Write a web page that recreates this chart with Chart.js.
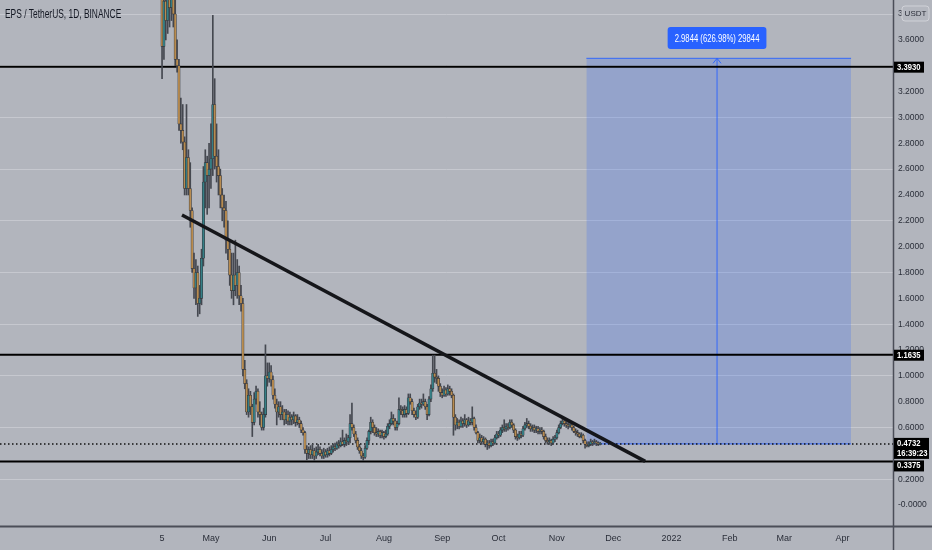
<!DOCTYPE html>
<html>
<head>
<meta charset="utf-8">
<script src="https://cdn.jsdelivr.net/npm/chart.js@4.4.0/dist/chart.umd.min.js"></script>
<style>
html, body { margin: 0; padding: 0; background: #b2b5bd; }
#wrap { width: 932px; height: 550px; position: relative; }
</style>
</head>
<body>
<div id="wrap"><canvas id="chartEps"></canvas></div>
<script>
// daily candles, day 0 = 5 Apr 2021
var opens = [
  3.95, 3.55, 3.90, 3.75, 4.00, 3.85, 4.05, 3.80, 3.45, 3.40,
  2.95, 2.90, 2.81, 2.45, 2.69, 2.45, 2.28, 1.83, 1.68, 1.80,
  1.56, 1.60, 1.91, 2.50, 2.65, 2.55, 2.60, 2.68, 3.10, 2.70,
  2.62, 2.55, 2.40, 2.30, 2.28, 2.05, 1.98, 1.78, 1.66, 1.78,
  1.70, 1.80, 1.62, 1.56, 1.05, 0.94, 0.72, 0.85, 0.76, 0.64,
  0.82, 0.88, 0.72, 0.70, 0.60, 0.70, 1.00, 0.98, 1.03, 0.97,
  0.85, 0.78, 0.72, 0.76, 0.70, 0.72, 0.66, 0.70, 0.65, 0.68,
  0.66, 0.69, 0.64, 0.66, 0.63, 0.58, 0.56, 0.43, 0.40, 0.43,
  0.39, 0.42, 0.38, 0.41, 0.43, 0.40, 0.38, 0.41, 0.39, 0.42,
  0.40, 0.43, 0.45, 0.44, 0.47, 0.46, 0.49, 0.47, 0.50, 0.49,
  0.52, 0.63, 0.60, 0.55, 0.50, 0.45, 0.42, 0.38, 0.37, 0.44,
  0.50, 0.57, 0.64, 0.60, 0.56, 0.55, 0.57, 0.54, 0.56, 0.53,
  0.55, 0.61, 0.63, 0.67, 0.65, 0.60, 0.63, 0.74, 0.73, 0.70,
  0.74, 0.71, 0.83, 0.80, 0.73, 0.70, 0.68, 0.76, 0.79, 0.78,
  0.80, 0.76, 0.70, 0.82, 0.90, 1.02, 0.99, 0.98, 0.92, 0.87,
  0.85, 0.89, 0.86, 0.90, 0.88, 0.85, 0.68, 0.62, 0.64, 0.61,
  0.65, 0.63, 0.66, 0.62, 0.65, 0.64, 0.67, 0.60, 0.56, 0.50,
  0.52, 0.49, 0.51, 0.47, 0.48, 0.46, 0.49, 0.48, 0.52, 0.55,
  0.54, 0.58, 0.60, 0.59, 0.61, 0.60, 0.64, 0.62, 0.58, 0.53,
  0.52, 0.55, 0.54, 0.59, 0.62, 0.63, 0.61, 0.59, 0.60, 0.58,
  0.59, 0.57, 0.58, 0.57, 0.53, 0.50, 0.49, 0.50, 0.48, 0.51,
  0.52, 0.56, 0.60, 0.63, 0.65, 0.63, 0.62, 0.61, 0.62, 0.60,
  0.57, 0.56, 0.55, 0.53, 0.54, 0.50, 0.47, 0.46, 0.47, 0.49,
  0.48, 0.49, 0.48, 0.47
]
var highs = [
  4.50, 4.10, 4.20, 4.30, 4.40, 4.30, 4.20, 3.95, 3.60, 3.45,
  3.15, 3.10, 2.85, 3.10, 2.75, 2.65, 2.30, 1.95, 1.90, 1.85,
  1.70, 1.98, 2.62, 2.75, 2.70, 2.80, 2.95, 3.79, 3.30, 2.95,
  2.75, 2.60, 2.45, 2.40, 2.35, 2.20, 2.05, 1.95, 1.95, 2.05,
  1.90, 1.85, 1.70, 1.60, 1.12, 0.97, 0.90, 0.88, 0.78, 0.87,
  0.92, 0.90, 0.80, 0.72, 0.75, 1.24, 1.10, 1.10, 1.08, 1.00,
  0.90, 0.82, 0.80, 0.80, 0.77, 0.74, 0.74, 0.73, 0.72, 0.70,
  0.72, 0.70, 0.70, 0.68, 0.65, 0.60, 0.57, 0.46, 0.45, 0.46,
  0.47, 0.44, 0.45, 0.47, 0.45, 0.43, 0.44, 0.43, 0.44, 0.45,
  0.46, 0.47, 0.48, 0.49, 0.50, 0.52, 0.58, 0.52, 0.55, 0.54,
  0.70, 0.79, 0.62, 0.57, 0.52, 0.47, 0.44, 0.40, 0.46, 0.52,
  0.58, 0.68, 0.66, 0.62, 0.60, 0.59, 0.58, 0.58, 0.57, 0.58,
  0.63, 0.66, 0.72, 0.70, 0.67, 0.65, 0.83, 0.77, 0.76, 0.77,
  0.76, 0.86, 0.86, 0.82, 0.75, 0.73, 0.78, 0.82, 0.82, 0.86,
  0.82, 0.78, 0.84, 0.93, 1.16, 1.16, 1.05, 1.00, 0.94, 0.90,
  0.92, 0.91, 0.93, 0.92, 0.90, 0.86, 0.70, 0.67, 0.66, 0.68,
  0.67, 0.70, 0.67, 0.68, 0.67, 0.76, 0.68, 0.62, 0.57, 0.55,
  0.54, 0.53, 0.52, 0.50, 0.50, 0.51, 0.51, 0.54, 0.57, 0.57,
  0.60, 0.62, 0.66, 0.63, 0.63, 0.66, 0.66, 0.63, 0.59, 0.55,
  0.57, 0.57, 0.61, 0.64, 0.67, 0.65, 0.63, 0.62, 0.62, 0.61,
  0.61, 0.60, 0.60, 0.58, 0.55, 0.52, 0.52, 0.51, 0.53, 0.54,
  0.58, 0.62, 0.65, 0.67, 0.66, 0.65, 0.64, 0.64, 0.63, 0.61,
  0.59, 0.58, 0.56, 0.56, 0.55, 0.51, 0.49, 0.49, 0.51, 0.50,
  0.51, 0.50, 0.49, 0.485
]
var lows = [
  3.30, 3.45, 3.60, 3.65, 3.70, 3.75, 3.70, 3.40, 3.35, 2.90,
  2.80, 2.75, 2.40, 2.40, 2.40, 2.15, 1.80, 1.60, 1.55, 1.46,
  1.48, 1.55, 1.85, 2.30, 2.25, 2.30, 2.45, 2.55, 2.60, 2.50,
  2.40, 2.30, 2.20, 2.15, 1.95, 1.90, 1.70, 1.60, 1.55, 1.62,
  1.60, 1.55, 1.50, 1.00, 0.90, 0.70, 0.68, 0.70, 0.53, 0.62,
  0.78, 0.68, 0.62, 0.58, 0.58, 0.68, 0.92, 0.95, 0.92, 0.82,
  0.75, 0.62, 0.68, 0.66, 0.66, 0.62, 0.63, 0.62, 0.62, 0.62,
  0.63, 0.61, 0.62, 0.60, 0.56, 0.54, 0.40, 0.35, 0.36, 0.36,
  0.36, 0.345, 0.36, 0.39, 0.38, 0.36, 0.36, 0.37, 0.37, 0.38,
  0.39, 0.41, 0.42, 0.43, 0.44, 0.45, 0.46, 0.45, 0.46, 0.47,
  0.48, 0.58, 0.53, 0.48, 0.43, 0.40, 0.36, 0.345, 0.36, 0.43,
  0.48, 0.55, 0.56, 0.54, 0.53, 0.53, 0.52, 0.52, 0.51, 0.52,
  0.54, 0.59, 0.62, 0.62, 0.58, 0.58, 0.62, 0.70, 0.68, 0.68,
  0.68, 0.70, 0.78, 0.70, 0.68, 0.66, 0.67, 0.74, 0.75, 0.77,
  0.74, 0.66, 0.69, 0.80, 0.88, 0.95, 0.94, 0.88, 0.84, 0.83,
  0.84, 0.84, 0.85, 0.85, 0.83, 0.54, 0.58, 0.59, 0.59, 0.60,
  0.60, 0.61, 0.60, 0.61, 0.62, 0.62, 0.58, 0.55, 0.48, 0.48,
  0.47, 0.47, 0.45, 0.43, 0.44, 0.45, 0.46, 0.47, 0.51, 0.52,
  0.53, 0.56, 0.57, 0.57, 0.58, 0.59, 0.60, 0.56, 0.51, 0.50,
  0.51, 0.52, 0.53, 0.58, 0.60, 0.59, 0.57, 0.57, 0.56, 0.56,
  0.55, 0.55, 0.55, 0.51, 0.48, 0.47, 0.47, 0.46, 0.47, 0.49,
  0.51, 0.55, 0.59, 0.62, 0.61, 0.60, 0.59, 0.60, 0.58, 0.56,
  0.54, 0.53, 0.52, 0.52, 0.48, 0.44, 0.45, 0.45, 0.46, 0.46,
  0.47, 0.46, 0.46, 0.465
]
var closes = [
  3.55, 3.90, 3.75, 4.00, 3.85, 4.05, 3.80, 3.45, 3.40, 2.95,
  2.90, 2.81, 2.45, 2.69, 2.45, 2.28, 1.83, 1.68, 1.80, 1.56,
  1.60, 1.91, 2.50, 2.65, 2.55, 2.60, 2.68, 3.10, 2.70, 2.62,
  2.55, 2.40, 2.30, 2.28, 2.05, 1.98, 1.78, 1.66, 1.78, 1.70,
  1.80, 1.62, 1.56, 1.05, 0.94, 0.72, 0.85, 0.76, 0.64, 0.82,
  0.88, 0.72, 0.70, 0.60, 0.70, 1.00, 0.98, 1.03, 0.97, 0.85,
  0.78, 0.72, 0.76, 0.70, 0.72, 0.66, 0.70, 0.65, 0.68, 0.66,
  0.69, 0.64, 0.66, 0.63, 0.58, 0.56, 0.43, 0.40, 0.43, 0.39,
  0.42, 0.38, 0.41, 0.43, 0.40, 0.38, 0.41, 0.39, 0.42, 0.40,
  0.43, 0.45, 0.44, 0.47, 0.46, 0.49, 0.47, 0.50, 0.49, 0.52,
  0.63, 0.60, 0.55, 0.50, 0.45, 0.42, 0.38, 0.37, 0.44, 0.50,
  0.57, 0.64, 0.60, 0.56, 0.55, 0.57, 0.54, 0.56, 0.53, 0.55,
  0.61, 0.63, 0.67, 0.65, 0.60, 0.63, 0.74, 0.73, 0.70, 0.74,
  0.71, 0.83, 0.80, 0.73, 0.70, 0.68, 0.76, 0.79, 0.78, 0.80,
  0.76, 0.70, 0.82, 0.90, 1.02, 0.99, 0.98, 0.92, 0.87, 0.85,
  0.89, 0.86, 0.90, 0.88, 0.85, 0.68, 0.62, 0.64, 0.61, 0.65,
  0.63, 0.66, 0.62, 0.65, 0.64, 0.67, 0.60, 0.56, 0.50, 0.52,
  0.49, 0.51, 0.47, 0.48, 0.46, 0.49, 0.48, 0.52, 0.55, 0.54,
  0.58, 0.60, 0.59, 0.61, 0.60, 0.64, 0.62, 0.58, 0.53, 0.52,
  0.55, 0.54, 0.59, 0.62, 0.63, 0.61, 0.59, 0.60, 0.58, 0.59,
  0.57, 0.58, 0.57, 0.53, 0.50, 0.49, 0.50, 0.48, 0.51, 0.52,
  0.56, 0.60, 0.63, 0.65, 0.63, 0.62, 0.61, 0.62, 0.60, 0.57,
  0.56, 0.55, 0.53, 0.54, 0.50, 0.47, 0.46, 0.47, 0.49, 0.48,
  0.49, 0.48, 0.47, 0.4732
]

var tickDays = [0, 26, 57, 87, 118, 149, 179, 210, 240, 271, 302, 331, 362]
var tickLabels = ['5', 'May', 'Jun', 'Jul', 'Aug', 'Sep', 'Oct', 'Nov', 'Dec', '2022', 'Feb', 'Mar', 'Apr']
var priceTicks = [0, 0.2, 0.4, 0.6, 0.8, 1.0, 1.2, 1.4, 1.6, 1.8, 2.0, 2.2, 2.4, 2.6, 2.8, 3.0, 3.2, 3.4, 3.6, 3.8]

var levels = [3.3930, 1.1635, 0.3375]
var lastPrice = 0.4732
var lastTime = '16:39:23'
var trendDays = [10.6, 257]
var trendValues = [2.245, 0.338]
var targetDays = [225.7, 366.5]
var targetValues = [0.4732, 3.4576]
var arrowDay = 295.2
var targetText = '2.9844 (626.98%) 29844'

var xMin = -86.2, xMax = 388.8
var yMin = -0.17, yMax = 3.909

var upColor = '#357f86'
var downColor = '#b88c50'
var font = '"Liberation Sans", "DejaVu Sans", sans-serif'

var wicks = []
var bodies = []
for (let i = 0; i < closes.length; i++) {
    wicks.push({x: i, y: [lows[i], highs[i]]})
    bodies.push({x: i, y: [opens[i], closes[i]]})
}

function lineSet(points, color, width, dash, order) {
    return {
        type: 'line',
        data: points,
        borderColor: color,
        borderWidth: width,
        borderDash: dash || [],
        pointRadius: 0,
        fill: false,
        tension: 0,
        order: order
    }
}

var datasets = []
// target box
let box = lineSet([{x: targetDays[0], y: targetValues[1]}, {x: targetDays[1], y: targetValues[1]}], 'rgba(41, 98, 255, 0.9)', 1, null, 20)
box.fill = {value: targetValues[0]}
box.backgroundColor = 'rgba(41, 98, 255, 0.22)'
datasets.push(box)
datasets.push(lineSet([{x: targetDays[0], y: targetValues[0]}, {x: targetDays[1], y: targetValues[0]}], 'rgba(41, 98, 255, 0.9)', 1, null, 19))
datasets.push(lineSet([{x: arrowDay, y: targetValues[0]}, {x: arrowDay, y: targetValues[1]}], 'rgba(41, 98, 255, 0.9)', 1, null, 18))

levels.forEach(function (v) {
    datasets.push(lineSet([{x: xMin, y: v}, {x: xMax, y: v}], '#000000', 2, null, 5))
})
datasets.push(lineSet([{x: xMin, y: lastPrice}, {x: xMax, y: lastPrice}], '#111111', 1.5, [1.5, 2.5], 6))

datasets.push({
    type: 'bar',
    data: wicks,
    backgroundColor: '#454850',
    barThickness: 1,
    grouped: false,
    order: 3
})
datasets.push({
    type: 'bar',
    data: bodies,
    backgroundColor: function (ctx) {
        let i = ctx.dataIndex
        return closes[i] >= opens[i] ? upColor : downColor
    },
    borderColor: '#33343a',
    borderWidth: 0.6,
    borderSkipped: false,
    barThickness: 2.4,
    minBarLength: 1,
    grouped: false,
    order: 2
})
datasets.push(lineSet([{x: trendDays[0], y: trendValues[0]}, {x: trendDays[1], y: trendValues[1]}], '#15161a', 3.5, null, 0))

function roundRect(c, x, y, w, h, r) {
    c.beginPath()
    c.moveTo(x + r, y)
    c.lineTo(x + w - r, y)
    c.quadraticCurveTo(x + w, y, x + w, y + r)
    c.lineTo(x + w, y + h - r)
    c.quadraticCurveTo(x + w, y + h, x + w - r, y + h)
    c.lineTo(x + r, y + h)
    c.quadraticCurveTo(x, y + h, x, y + h - r)
    c.lineTo(x, y + r)
    c.quadraticCurveTo(x, y, x + r, y)
    c.closePath()
}

// condensed text, the chart font is narrow
function narrowText(c, text, x, y, sx) {
    c.save()
    c.translate(x, y)
    c.scale(sx, 1)
    c.fillText(text, 0, 0)
    c.restore()
}

function priceTag(c, top, lines, w) {
    c.fillStyle = '#000000'
    c.fillRect(894, top, w, lines.length * 10 + 1)
    c.fillStyle = '#ffffff'
    c.font = 'bold 9px ' + font
    c.textAlign = 'left'
    c.textBaseline = 'middle'
    lines.forEach(function (t, k) {
        narrowText(c, t, 897, top + 5.5 + k * 10, 0.85)
    })
}

var overlay = {
    id: 'overlay',
    afterDatasetsDraw: function (chart) {
        let c = chart.ctx
        let ax = chart.scales.x.getPixelForValue(arrowDay)
        let ay = chart.scales.y.getPixelForValue(targetValues[1])
        c.save()
        c.strokeStyle = 'rgba(41, 98, 255, 0.9)'
        c.lineWidth = 1
        c.beginPath()
        c.moveTo(ax - 4, ay + 5)
        c.lineTo(ax, ay)
        c.lineTo(ax + 4, ay + 5)
        c.stroke()
        c.font = '11px ' + font
        let tw = c.measureText(targetText).width * 0.7
        let w = tw + 14
        roundRect(c, ax - w / 2, 27, w, 22, 3)
        c.fillStyle = '#2962ff'
        c.fill()
        c.fillStyle = '#ffffff'
        c.textAlign = 'left'
        c.textBaseline = 'middle'
        narrowText(c, targetText, ax - tw / 2, 38.5, 0.7)
        c.restore()
    },
    afterDraw: function (chart) {
        let c = chart.ctx
        let y = chart.scales.y
        c.save()
        c.fillStyle = '#131722'
        c.font = '12px ' + font
        c.textAlign = 'left'
        c.textBaseline = 'middle'
        narrowText(c, 'EPS / TetherUS, 1D, BINANCE', 5, 15, 0.7)

        c.strokeStyle = '#4b4e58'
        c.lineWidth = 2
        c.beginPath()
        c.moveTo(0, 526.5)
        c.lineTo(932, 526.5)
        c.stroke()
        c.lineWidth = 1.5
        c.beginPath()
        c.moveTo(893.5, 0)
        c.lineTo(893.5, 550)
        c.stroke()

        priceTag(c, y.getPixelForValue(levels[0]) - 5, [levels[0].toFixed(4)], 30)
        priceTag(c, y.getPixelForValue(levels[1]) - 5, [levels[1].toFixed(4)], 30)
        priceTag(c, y.getPixelForValue(lastPrice) - 6, [lastPrice.toFixed(4), lastTime], 35)
        priceTag(c, y.getPixelForValue(levels[2]) - 1, [levels[2].toFixed(4)], 30)

        // unit box
        roundRect(c, 902, 6, 27, 15, 3)
        c.fillStyle = '#b4b7bf'
        c.fill()
        c.strokeStyle = '#d0d2d8'
        c.lineWidth = 1
        c.stroke()
        c.fillStyle = '#2a2e39'
        c.font = '8px ' + font
        c.textAlign = 'center'
        c.fillText('USDT', 915.5, 13.5)
        c.restore()
    }
}

var ctx = document.getElementById('chartEps')
var chartEps = new Chart(ctx, {
    type: 'bar',
    data: {datasets: datasets},
    plugins: [overlay],
    options: {
        responsive: true,
        maintainAspectRatio: false,
        animation: false,
        layout: {padding: 0},
        plugins: {
            legend: {display: false},
            tooltip: {enabled: false}
        },
        scales: {
            x: {
                type: 'linear',
                min: xMin,
                max: xMax,
                offset: false,
                afterBuildTicks: function (scale) {
                    scale.ticks = tickDays.map(function (d) { return {value: d} })
                },
                afterFit: function (scale) { scale.height = 23 },
                ticks: {
                    autoSkip: false,
                    maxRotation: 0,
                    padding: 6,
                    color: '#2a2e39',
                    font: {family: font, size: 9},
                    callback: function (val) {
                        return tickLabels[tickDays.indexOf(val)]
                    }
                },
                grid: {display: false, drawTicks: false},
                border: {display: false}
            },
            y: {
                position: 'right',
                min: yMin,
                max: yMax,
                afterBuildTicks: function (scale) {
                    scale.ticks = priceTicks.map(function (v) { return {value: v} })
                },
                afterFit: function (scale) {
                    scale.width = 39
                    scale.paddingTop = 0
                    scale.paddingBottom = 0
                },
                ticks: {
                    autoSkip: false,
                    padding: 5,
                    color: '#2a2e39',
                    font: {family: font, size: 8.5},
                    callback: function (val) {
                        if (Math.abs(val) < 1e-9) {
                            return '-0.0000'
                        }
                        return val.toFixed(4)
                    }
                },
                grid: {
                    drawTicks: false,
                    color: function (ctx) {
                        let v = Math.round(ctx.tick.value * 10)
                        return (v % 4 === 2) ? 'rgba(200, 202, 208, 0.9)' : 'rgba(0, 0, 0, 0)'
                    }
                },
                border: {display: false}
            }
        }
    }
})
</script>
</body>
</html>
